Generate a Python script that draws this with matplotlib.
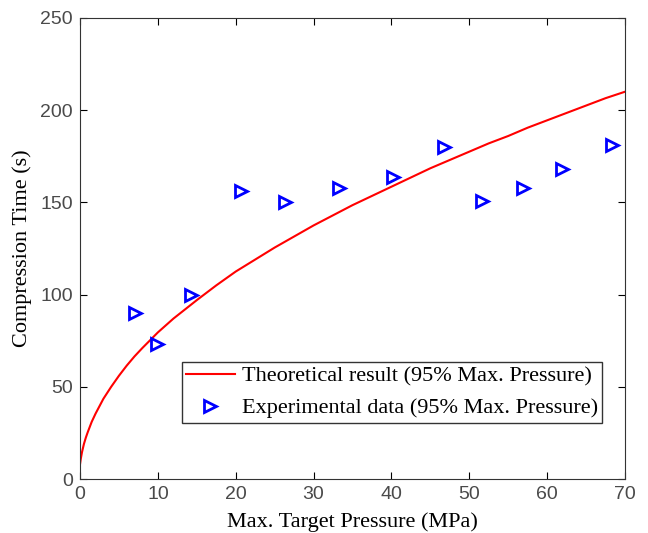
import numpy as np
import matplotlib.pyplot as plt

# theoretical curve
theory_p = [0, 0.1, 0.25, 0.5, 0.75, 1, 1.5, 2, 2.5, 3, 4, 5, 6, 7, 8, 10, 12, 15,
            17.5, 20, 22.5, 25, 27.5, 30, 32.5, 35, 37.5, 40, 42.5, 45, 47.5, 50,
            52.5, 55, 57.5, 60, 62.5, 65, 67.5, 70]
theory_t = [8, 11, 14.5, 19, 22.5, 25.5, 31, 35.5, 39.5, 43.5, 50, 56, 61.5, 66.5, 71,
            79.5, 87, 97, 105, 112.5, 119, 125.5, 131.5, 137.5, 143, 148.5, 153.5,
            158.5, 163.5, 168.5, 173, 177.5, 182, 186, 190.5, 194.5, 198.5, 202.5,
            206.5, 210]

# experimental points
exp_p = [7.0, 9.9, 14.3, 20.7, 26.3, 33.3, 40.2, 46.7, 51.6, 56.9, 61.9, 68.3]
exp_t = [90, 73, 100, 156, 150, 158, 164, 180, 151, 158, 168, 181]

serif = ['Liberation Serif', 'DejaVu Serif']

fig = plt.figure(figsize=(6.48, 5.33), dpi=100)
ax = fig.add_axes([0.1235, 0.1013, 0.841, 0.865])

ax.plot(theory_p, theory_t, color='red', lw=1.5,
        label='Theoretical result (95% Max. Pressure)')
ax.plot(exp_p, exp_t, linestyle='none', marker='>', ms=9, mfc='none',
        mec='blue', mew=2, label='Experimental data (95% Max. Pressure)')

ax.set_xlim(0, 70)
ax.set_ylim(0, 250)
ax.set_xticks(np.arange(0, 71, 10))
ax.set_yticks(np.arange(0, 251, 50))
ax.tick_params(direction='in', top=True, right=True, labelsize=14,
               labelcolor='#4a4a4a', length=5, pad=5)
for lab in ax.get_xticklabels() + ax.get_yticklabels():
    lab.set_family(['Liberation Sans', 'DejaVu Sans'])
for s in ax.spines.values():
    s.set_color('#333333')

ax.set_xlabel('Max. Target Pressure (MPa)', family=serif, fontsize=16, labelpad=7)
ax.set_ylabel('Compression Time (s)', family=serif, fontsize=16, labelpad=6)

leg = ax.legend(loc='lower right', bbox_to_anchor=(0.958, 0.122),
                prop={'family': serif, 'size': 16}, fancybox=False,
                edgecolor='#333333', framealpha=1, handlelength=2.2,
                borderpad=0.2, labelspacing=0.5, handletextpad=0.3,
                borderaxespad=0)
leg.get_frame().set_linewidth(1.0)

fig.savefig('out.png', dpi=100)
